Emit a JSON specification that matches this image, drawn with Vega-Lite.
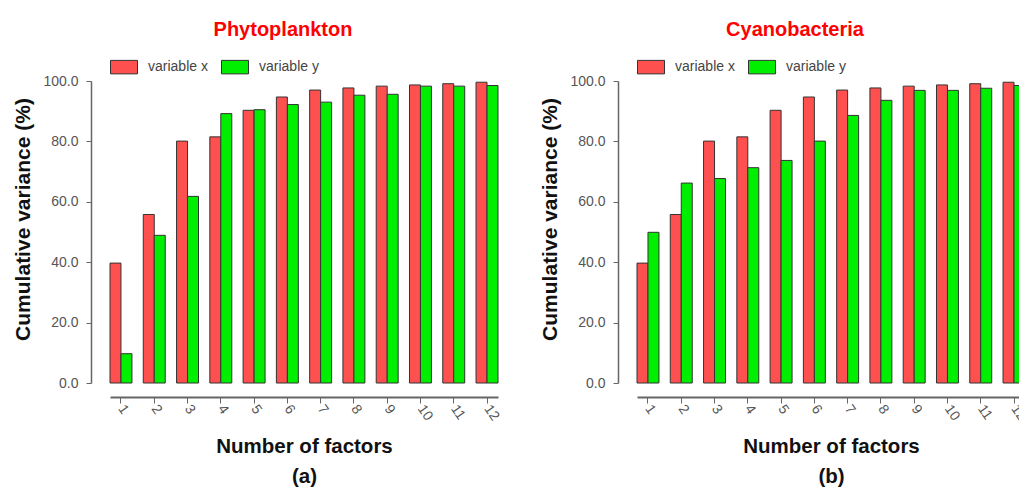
{
  "$schema": "https://vega.github.io/schema/vega-lite/v6.json",
  "padding": {"left": 12, "top": 20, "right": 0, "bottom": 0},
  "background": "white",
  "config": {
    "font": "Liberation Sans",
    "view": {"stroke": null},
    "axis": {"grid": false, "labelFont": "Liberation Sans", "titleFont": "Liberation Sans", "domainColor": "#666", "tickColor": "#666", "labelColor": "#555", "titleColor": "#111"}
  },
  "datasets": {
    "a": [
      {"factor": 1, "variable": "variable x", "value": 39.7}, {"factor": 1, "variable": "variable y", "value": 9.7},
      {"factor": 2, "variable": "variable x", "value": 55.8}, {"factor": 2, "variable": "variable y", "value": 48.9},
      {"factor": 3, "variable": "variable x", "value": 80.1}, {"factor": 3, "variable": "variable y", "value": 61.8},
      {"factor": 4, "variable": "variable x", "value": 81.5}, {"factor": 4, "variable": "variable y", "value": 89.2},
      {"factor": 5, "variable": "variable x", "value": 90.3}, {"factor": 5, "variable": "variable y", "value": 90.5},
      {"factor": 6, "variable": "variable x", "value": 94.7}, {"factor": 6, "variable": "variable y", "value": 92.2},
      {"factor": 7, "variable": "variable x", "value": 97.0}, {"factor": 7, "variable": "variable y", "value": 93.0},
      {"factor": 8, "variable": "variable x", "value": 97.7}, {"factor": 8, "variable": "variable y", "value": 95.3},
      {"factor": 9, "variable": "variable x", "value": 98.3}, {"factor": 9, "variable": "variable y", "value": 95.6},
      {"factor": 10, "variable": "variable x", "value": 98.7}, {"factor": 10, "variable": "variable y", "value": 98.3},
      {"factor": 11, "variable": "variable x", "value": 99.1}, {"factor": 11, "variable": "variable y", "value": 98.3},
      {"factor": 12, "variable": "variable x", "value": 99.6}, {"factor": 12, "variable": "variable y", "value": 98.5}
    ],
    "b": [
      {"factor": 1, "variable": "variable x", "value": 39.7}, {"factor": 1, "variable": "variable y", "value": 49.9},
      {"factor": 2, "variable": "variable x", "value": 55.8}, {"factor": 2, "variable": "variable y", "value": 66.2},
      {"factor": 3, "variable": "variable x", "value": 80.1}, {"factor": 3, "variable": "variable y", "value": 67.7},
      {"factor": 4, "variable": "variable x", "value": 81.5}, {"factor": 4, "variable": "variable y", "value": 71.3},
      {"factor": 5, "variable": "variable x", "value": 90.3}, {"factor": 5, "variable": "variable y", "value": 73.7},
      {"factor": 6, "variable": "variable x", "value": 94.7}, {"factor": 6, "variable": "variable y", "value": 80.1},
      {"factor": 7, "variable": "variable x", "value": 97.0}, {"factor": 7, "variable": "variable y", "value": 88.6},
      {"factor": 8, "variable": "variable x", "value": 97.7}, {"factor": 8, "variable": "variable y", "value": 93.6},
      {"factor": 9, "variable": "variable x", "value": 98.3}, {"factor": 9, "variable": "variable y", "value": 96.9},
      {"factor": 10, "variable": "variable x", "value": 98.7}, {"factor": 10, "variable": "variable y", "value": 96.9},
      {"factor": 11, "variable": "variable x", "value": 99.1}, {"factor": 11, "variable": "variable y", "value": 97.6},
      {"factor": 12, "variable": "variable x", "value": 99.6}, {"factor": 12, "variable": "variable y", "value": 98.5}
    ]
  },
  "resolve": {"scale": {"color": "independent", "x": "independent", "y": "independent"}, "legend": {"color": "independent"}},
  "spacing": 37,
  "hconcat": [
    {
      "data": {"name": "a"},
      "width": 388,
      "height": 302,
      "title": {"text": "Phytoplankton", "color": "#FF0000", "fontSize": 20, "fontWeight": "bold", "font": "Liberation Sans", "dx": -21, "offset": 13},
      "mark": {"type": "bar", "stroke": "#333", "strokeWidth": 1},
      "encoding": {
        "x": {"field": "factor", "type": "ordinal", "scale": {"paddingInner": 0.34, "paddingOuter": 0},
          "axis": {"title": ["Number of factors", "(a)"], "titleFontSize": 20.5, "titleFontWeight": "bold", "titleLineHeight": 30, "titlePadding": 14, "offset": 14, "domainWidth": 2, "tickSize": 6, "labelAngle": 55, "labelAlign": "left", "labelBaseline": "middle", "labelFontSize": 14, "labelPadding": 3}},
        "xOffset": {"field": "variable", "type": "nominal", "scale": {"paddingInner": 0, "paddingOuter": 0}},
        "y": {"field": "value", "type": "quantitative", "scale": {"domain": [0, 100], "nice": false},
          "axis": {"title": "Cumulative variance (%)", "titleFontSize": 21, "titleFontWeight": "bold", "titlePadding": 9, "titleY": 138, "offset": 19, "domainWidth": 1.5, "tickSize": 5, "labelPadding": 8, "labelFontSize": 14, "format": ".1f", "values": [0, 20, 40, 60, 80, 100]}},
        "color": {"field": "variable", "type": "nominal", "scale": {"domain": ["variable x", "variable y"], "range": ["#FF5050", "#00EE00"]},
          "legend": {"title": null, "orient": "none", "legendX": 0, "legendY": -28, "direction": "horizontal", "symbolType": "M-1,-0.5H1V0.5H-1Z", "symbolSize": 729, "symbolStrokeColor": "#333", "symbolStrokeWidth": 1, "symbolOpacity": 1, "labelFontSize": 14, "labelColor": "#444", "labelOffset": 10, "columnPadding": 11}}
      }
    },
    {
      "data": {"name": "b"},
      "width": 388,
      "height": 302,
      "title": {"text": "Cyanobacteria", "color": "#FF0000", "fontSize": 20, "fontWeight": "bold", "font": "Liberation Sans", "dx": -36, "offset": 13},
      "mark": {"type": "bar", "stroke": "#333", "strokeWidth": 1},
      "encoding": {
        "x": {"field": "factor", "type": "ordinal", "scale": {"paddingInner": 0.34, "paddingOuter": 0},
          "axis": {"title": ["Number of factors", "(b)"], "titleFontSize": 20.5, "titleFontWeight": "bold", "titleLineHeight": 30, "titlePadding": 14, "offset": 14, "domainWidth": 2, "tickSize": 6, "labelAngle": 55, "labelAlign": "left", "labelBaseline": "middle", "labelFontSize": 14, "labelPadding": 3}},
        "xOffset": {"field": "variable", "type": "nominal", "scale": {"paddingInner": 0, "paddingOuter": 0}},
        "y": {"field": "value", "type": "quantitative", "scale": {"domain": [0, 100], "nice": false},
          "axis": {"title": "Cumulative variance (%)", "titleFontSize": 21, "titleFontWeight": "bold", "titlePadding": 9, "titleY": 138, "offset": 19, "domainWidth": 1.5, "tickSize": 5, "labelPadding": 8, "labelFontSize": 14, "format": ".1f", "values": [0, 20, 40, 60, 80, 100]}},
        "color": {"field": "variable", "type": "nominal", "scale": {"domain": ["variable x", "variable y"], "range": ["#FF5050", "#00EE00"]},
          "legend": {"title": null, "orient": "none", "legendX": 0, "legendY": -28, "direction": "horizontal", "symbolType": "M-1,-0.5H1V0.5H-1Z", "symbolSize": 729, "symbolStrokeColor": "#333", "symbolStrokeWidth": 1, "symbolOpacity": 1, "labelFontSize": 14, "labelColor": "#444", "labelOffset": 10, "columnPadding": 11}}
      }
    }
  ]
}
